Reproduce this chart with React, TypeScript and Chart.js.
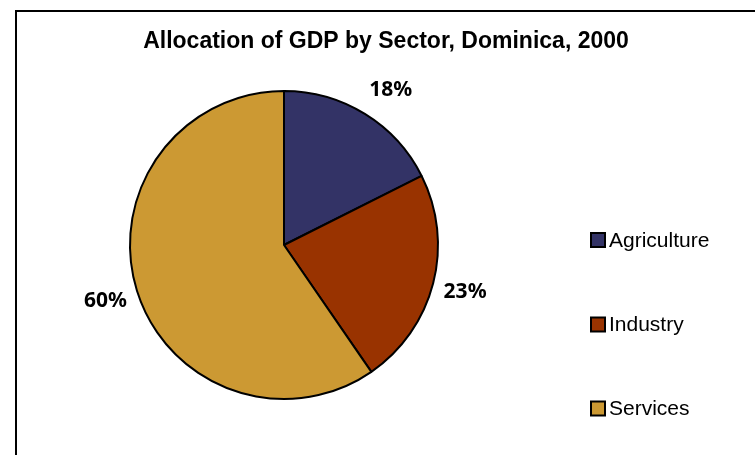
import React, { useEffect, useRef } from "react";
import { Chart, registerables } from "chart.js";

Chart.register(...registerables);

const title = "Allocation of GDP by Sector, Dominica, 2000";
const categories = ["Agriculture", "Industry", "Services"];
const shares = [17.6, 22.8, 59.6];
const percentLabels = ["18%", "23%", "60%"];
const colors = ["#333366", "#993300", "#CC9933"];
const labelNudges = [
  [8, 5],
  [-1, 0],
  [1, 0],
];

const framePlugin = {
  id: "frame",
  beforeDraw(chart: any) {
    const ctx = chart.ctx;
    ctx.save();
    ctx.fillStyle = "#ffffff";
    ctx.fillRect(0, 0, chart.width, chart.height);
    ctx.strokeStyle = "#000000";
    ctx.lineWidth = 2;
    ctx.beginPath();
    ctx.moveTo(16, chart.height + 5);
    ctx.lineTo(16, 11);
    ctx.lineTo(chart.width + 5, 11);
    ctx.stroke();
    // title
    ctx.fillStyle = "#000000";
    ctx.font = "bold 23px 'Liberation Sans', Arial, sans-serif";
    ctx.textAlign = "center";
    ctx.textBaseline = "alphabetic";
    ctx.fillText(title, 386, 48);
    ctx.restore();
  },
};

const labelsPlugin = {
  id: "pctLabels",
  afterDatasetsDraw(chart: any) {
    const ctx = chart.ctx;
    const meta = chart.getDatasetMeta(0);
    ctx.save();
    ctx.fillStyle = "#000000";
    ctx.font = "bold 21px 'Noto Sans', 'Open Sans', sans-serif";
    ctx.textAlign = "center";
    ctx.textBaseline = "middle";
    meta.data.forEach((arc: any, i: number) => {
      const mid = (arc.startAngle + arc.endAngle) / 2;
      const r = arc.outerRadius + 34;
      const x = arc.x + Math.cos(mid) * r + labelNudges[i][0];
      const y = arc.y + Math.sin(mid) * r + labelNudges[i][1];
      ctx.fillText(percentLabels[i], x, y);
    });
    // legend
    ctx.font = "21px 'Liberation Sans', Arial, sans-serif";
    ctx.textAlign = "left";
    ctx.textBaseline = "middle";
    const lx = 591;
    const ys = [240, 324.5, 408.5];
    categories.forEach((c, i) => {
      ctx.fillStyle = colors[i];
      ctx.fillRect(lx, ys[i] - 7, 14, 14);
      ctx.strokeStyle = "#000000";
      ctx.lineWidth = 2;
      ctx.strokeRect(lx, ys[i] - 7, 14, 14);
      ctx.fillStyle = "#000000";
      ctx.fillText(c, lx + 18, ys[i] + 1);
    });
    ctx.restore();
  },
};

export default function App() {
  const ref = useRef<HTMLCanvasElement>(null);
  useEffect(() => {
    document.body.style.margin = "0";
    const chart = new Chart(ref.current!, {
      type: "pie",
      data: {
        labels: categories,
        datasets: [
          {
            data: shares,
            backgroundColor: colors,
            borderColor: "#000000",
            borderWidth: 2,
            borderAlign: "center",
          } as any,
        ],
      },
      options: {
        animation: false,
        responsive: false,
        events: [],
        layout: { padding: { left: 129, right: 316, top: 90, bottom: 55 } },
        plugins: {
          legend: { display: false },
          tooltip: { enabled: false },
          title: { display: false },
        },
      },
      plugins: [framePlugin, labelsPlugin],
    });
    return () => chart.destroy();
  }, []);
  return (
    <div style={{ width: 755, height: 455 }}>
      <canvas ref={ref} width={755} height={455} style={{ display: "block" }} />
    </div>
  );
}
